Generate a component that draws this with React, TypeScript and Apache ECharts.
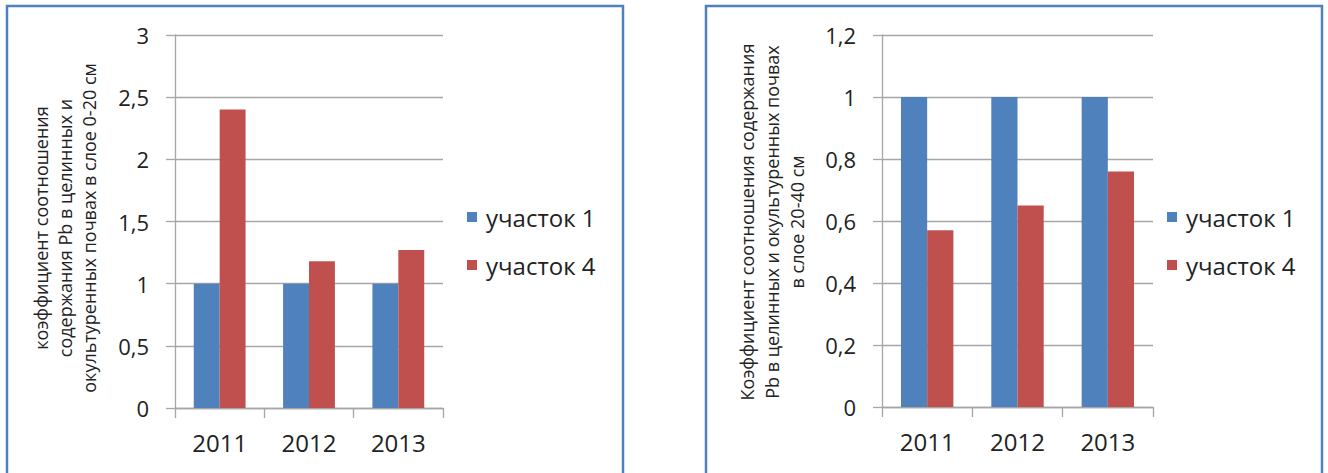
import React, { useEffect, useRef } from "react";
import * as echarts from "echarts";

const years = ["2011", "2012", "2013"];
const seriesNames = ["участок 1", "участок 4"];

// Layer 0–20 cm
const topPlot1 = [1, 1, 1];
const topPlot4 = [2.4, 1.18, 1.27];

// Layer 20–40 cm
const subPlot1 = [1, 1, 1];
const subPlot4 = [0.57, 0.65, 0.76];

const leftTitle = [
  "коэффициент соотношения",
  "содержания Pb в целинных и",
  "окультуренных почвах в слое 0-20 см",
];
const rightTitle = [
  "Коэффициент соотношения содержания",
  "Pb в целинных и окультуренных почвах",
  "в слое 20-40 см",
];

const BLUE = "#4F81BD";
const RED = "#C0504D";
const GRID = "#A6A6A6";
const TEXT = "#222222";
const FONT = "'Open Sans', sans-serif";

const fmt = (v: number) => String(Math.round(v * 10) / 10).replace(".", ",");

export default function App() {
  const ref = useRef<HTMLDivElement>(null);

  useEffect(() => {
    if (!ref.current) return;
    const chart = echarts.init(ref.current, undefined, { renderer: "svg" });

    const yAxisBase = (gridIndex: number, max: number, interval: number) => ({
      type: "value" as const,
      gridIndex,
      min: 0,
      max,
      interval,
      axisLine: { show: true, lineStyle: { color: GRID, width: 1.3 } },
      axisTick: { show: true, length: 9, lineStyle: { color: GRID, width: 1.3 } },
      splitLine: { show: true, lineStyle: { color: GRID, width: 1.3 } },
      axisLabel: {
        margin: 26,
        fontSize: 22,
        color: TEXT,
        fontFamily: FONT,
        formatter: (v: number) => fmt(v),
      },
    });

    const xAxisBase = (gridIndex: number) => ({
      type: "category" as const,
      gridIndex,
      data: years,
      axisLine: { show: true, lineStyle: { color: GRID, width: 1.3 } },
      axisTick: { show: true, length: 10, lineStyle: { color: GRID, width: 1.3 } },
      axisLabel: { margin: 22, fontSize: 24, color: TEXT, fontFamily: FONT },
    });

    const bar = (name: string, data: number[], color: string, idx: number) => ({
      type: "bar" as const,
      name,
      data,
      xAxisIndex: idx,
      yAxisIndex: idx,
      barGap: "0%",
      barCategoryGap: "42%",
      itemStyle: { color },
    });

    const titleLines = (lines: string[], xs: number[], cy: number) =>
      lines.map((t, i) => ({
        type: "text" as const,
        x: xs[i],
        y: cy,
        rotation: Math.PI / 2,
        style: {
          text: t,
          fill: TEXT,
          font: `18px ${FONT}`,
          textAlign: "center" as const,
          textVerticalAlign: "middle" as const,
        },
      }));

    const legendBase = (left: number) => ({
      left,
      top: 200,
      orient: "vertical" as const,
      icon: "rect",
      itemWidth: 10,
      itemHeight: 10,
      itemGap: 24,
      itemStyle: { borderWidth: 0 },
      textStyle: { fontSize: 24, color: TEXT, fontFamily: FONT, padding: [0, 0, 0, 4] },
      data: seriesNames,
      selectedMode: false,
    });

    chart.setOption({
      animation: false,
      backgroundColor: "#ffffff",
      grid: [
        { left: 175, top: 35, width: 268, height: 373 },
        { left: 882, top: 35, width: 271, height: 372 },
      ],
      xAxis: [xAxisBase(0), xAxisBase(1)],
      yAxis: [yAxisBase(0, 3, 0.5), yAxisBase(1, 1.2, 0.2)],
      legend: [legendBase(462), legendBase(1162)],
      graphic: [
        {
          type: "rect",
          shape: { x: 7, y: 6, width: 616, height: 520 },
          style: { fill: "none", stroke: BLUE, lineWidth: 2.5 },
        },
        {
          type: "rect",
          shape: { x: 706, y: 6, width: 616, height: 520 },
          style: { fill: "none", stroke: BLUE, lineWidth: 2.5 },
        },
        ...titleLines(leftTitle, [41, 65, 89], 228),
        ...titleLines(rightTitle, [747, 772, 797], 222),
      ],
      series: [
        bar(seriesNames[0], topPlot1, BLUE, 0),
        bar(seriesNames[1], topPlot4, RED, 0),
        bar(seriesNames[0], subPlot1, BLUE, 1),
        bar(seriesNames[1], subPlot4, RED, 1),
      ],
    });

    return () => chart.dispose();
  }, []);

  return (
    <div
      ref={ref}
      style={{ position: "fixed", left: 0, top: 0, width: 1328, height: 473 }}
    />
  );
}
